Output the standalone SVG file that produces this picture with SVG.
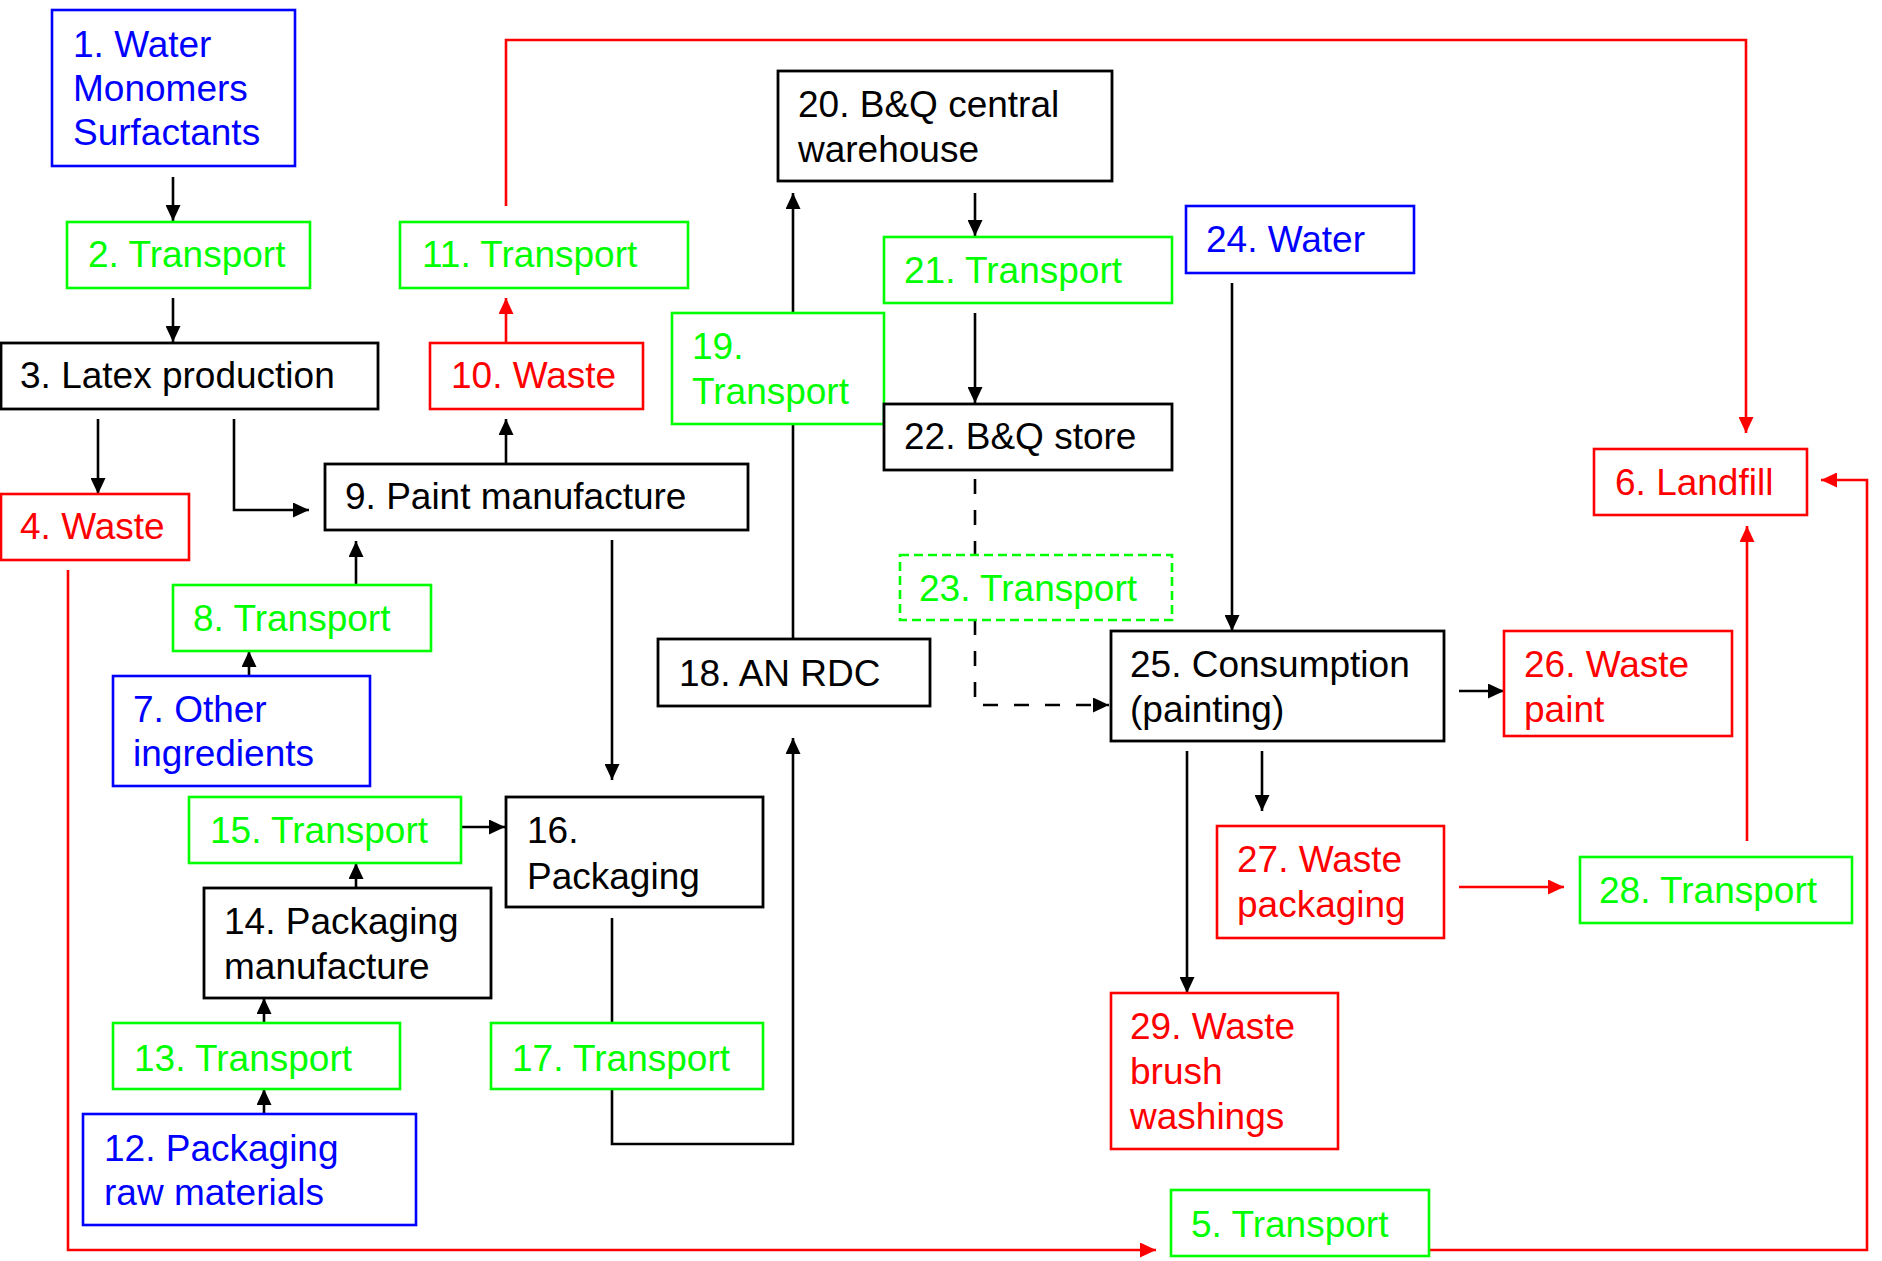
<svg xmlns="http://www.w3.org/2000/svg" width="1882" height="1261" viewBox="0 0 1882 1261">
<style>
rect{fill:#fff;stroke-width:2.6}
.k{stroke:#000;stroke-width:2.8}
.g{stroke:#00ff00}
.r{stroke:#ff0000}
.u{stroke:#0000ff}
.d{stroke-dasharray:9 5}
text{font-family:"Liberation Sans",Arial,sans-serif;font-size:37px}
.tk{fill:#000}.tg{fill:#00ff00}.tr{fill:#ff0000}.tu{fill:#0000ff}
#connectors path{fill:none;stroke-width:2.6}
.ck{stroke:#000}
.cr{stroke:#ff0000}
.dash{stroke-dasharray:15 16}
</style>
<defs>
<marker id="ak" markerUnits="userSpaceOnUse" markerWidth="16" markerHeight="15" refX="16" refY="7.5" orient="auto"><path d="M0,0 L16,7.5 L0,15 z" fill="#000"/></marker>
<marker id="ar" markerUnits="userSpaceOnUse" markerWidth="16" markerHeight="15" refX="16" refY="7.5" orient="auto"><path d="M0,0 L16,7.5 L0,15 z" fill="#ff0000"/></marker>
</defs>
<g id="connectors">
<path class="ck" d="M173,177 V221" marker-end="url(#ak)"/>
<path class="ck" d="M173,298 V342" marker-end="url(#ak)"/>
<path class="ck" d="M98,419 V494" marker-end="url(#ak)"/>
<path class="ck" d="M234,419 V510 H309" marker-end="url(#ak)"/>
<path class="ck" d="M506,464 V419" marker-end="url(#ak)"/>
<path class="cr" d="M506,343 V298" marker-end="url(#ar)"/>
<path class="cr" d="M506,206 V40 H1746 V433" marker-end="url(#ar)"/>
<path class="ck" d="M356,585 V541" marker-end="url(#ak)"/>
<path class="ck" d="M249,676 V651" marker-end="url(#ak)"/>
<path class="ck" d="M612,540 V780" marker-end="url(#ak)"/>
<path class="ck" d="M461,827 H505" marker-end="url(#ak)"/>
<path class="ck" d="M356,888 V863" marker-end="url(#ak)"/>
<path class="ck" d="M264,1023 V998" marker-end="url(#ak)"/>
<path class="ck" d="M264,1114 V1089" marker-end="url(#ak)"/>
<path class="ck" d="M612,918 V1023"/>
<path class="ck" d="M612,1089 V1144 H793 V738" marker-end="url(#ak)"/>
<path class="ck" d="M793,639 V424"/>
<path class="ck" d="M793,313 V193" marker-end="url(#ak)"/>
<path class="ck" d="M975,193 V236" marker-end="url(#ak)"/>
<path class="ck" d="M975,313 V403" marker-end="url(#ak)"/>
<path class="ck dash" d="M975,479 V555"/>
<path class="ck dash" d="M975,620 V705 H1109" marker-end="url(#ak)"/>
<path class="ck" d="M1232,283 V631" marker-end="url(#ak)"/>
<path class="ck" d="M1459,691 H1504" marker-end="url(#ak)"/>
<path class="ck" d="M1262,751 V811" marker-end="url(#ak)"/>
<path class="ck" d="M1187,751 V993" marker-end="url(#ak)"/>
<path class="cr" d="M1459,887 H1564" marker-end="url(#ar)"/>
<path class="cr" d="M1747,841 V526" marker-end="url(#ar)"/>
<path class="cr" d="M68,570 V1250 H1156" marker-end="url(#ar)"/>
<path class="cr" d="M1429,1250 H1867 V480 H1821" marker-end="url(#ar)"/>
</g>
<g id="n1"><rect class="u" x="52" y="10" width="243" height="156"/><text class="tu" x="73" y="57">1. Water</text><text class="tu" x="73" y="101">Monomers</text><text class="tu" x="73" y="145">Surfactants</text></g>
<g id="n2"><rect class="g" x="67" y="222" width="243" height="66"/><text class="tg" x="88" y="267">2. Transport</text></g>
<g id="n3"><rect class="k" x="1" y="343" width="377" height="66"/><text class="tk" x="20" y="388">3. Latex production</text></g>
<g id="n4"><rect class="r" x="1" y="494" width="188" height="66"/><text class="tr" x="20" y="539">4. Waste</text></g>
<g id="n5"><rect class="g" x="1171" y="1190" width="258" height="66"/><text class="tg" x="1191" y="1237">5. Transport</text></g>
<g id="n6"><rect class="r" x="1594" y="449" width="213" height="66"/><text class="tr" x="1615" y="495">6. Landfill</text></g>
<g id="n7"><rect class="u" x="113" y="676" width="257" height="110"/><text class="tu" x="133" y="722">7. Other</text><text class="tu" x="133" y="766">ingredients</text></g>
<g id="n8"><rect class="g" x="173" y="585" width="258" height="66"/><text class="tg" x="193" y="631">8. Transport</text></g>
<g id="n9"><rect class="k" x="325" y="464" width="423" height="66"/><text class="tk" x="345" y="509">9. Paint manufacture</text></g>
<g id="n10"><rect class="r" x="430" y="343" width="213" height="66"/><text class="tr" x="451" y="388">10. Waste</text></g>
<g id="n11"><rect class="g" x="400" y="222" width="288" height="66"/><text class="tg" x="422" y="267">11. Transport</text></g>
<g id="n12"><rect class="u" x="83" y="1114" width="333" height="111"/><text class="tu" x="104" y="1161">12. Packaging</text><text class="tu" x="104" y="1205">raw materials</text></g>
<g id="n13"><rect class="g" x="113" y="1023" width="287" height="66"/><text class="tg" x="134" y="1071">13. Transport</text></g>
<g id="n14"><rect class="k" x="204" y="888" width="287" height="110"/><text class="tk" x="224" y="934">14. Packaging</text><text class="tk" x="224" y="979">manufacture</text></g>
<g id="n15"><rect class="g" x="189" y="797" width="272" height="66"/><text class="tg" x="210" y="843">15. Transport</text></g>
<g id="n16"><rect class="k" x="506" y="797" width="257" height="110"/><text class="tk" x="527" y="843">16.</text><text class="tk" x="527" y="889">Packaging</text></g>
<g id="n17"><rect class="g" x="491" y="1023" width="272" height="66"/><text class="tg" x="512" y="1071">17. Transport</text></g>
<g id="n18"><rect class="k" x="658" y="639" width="272" height="67"/><text class="tk" x="679" y="686">18. AN RDC</text></g>
<g id="n19"><rect class="g" x="672" y="313" width="212" height="111"/><text class="tg" x="692" y="359">19.</text><text class="tg" x="692" y="404">Transport</text></g>
<g id="n20"><rect class="k" x="778" y="71" width="334" height="110"/><text class="tk" x="798" y="117">20. B&amp;Q central</text><text class="tk" x="798" y="162">warehouse</text></g>
<g id="n21"><rect class="g" x="884" y="237" width="288" height="66"/><text class="tg" x="904" y="283">21. Transport</text></g>
<g id="n22"><rect class="k" x="884" y="404" width="288" height="66"/><text class="tk" x="904" y="449">22. B&amp;Q store</text></g>
<g id="n23"><rect class="g d" x="900" y="555" width="272" height="65"/><text class="tg" x="919" y="601">23. Transport</text></g>
<g id="n24"><rect class="u" x="1186" y="206" width="228" height="67"/><text class="tu" x="1206" y="252">24. Water</text></g>
<g id="n25"><rect class="k" x="1111" y="631" width="333" height="110"/><text class="tk" x="1130" y="677">25. Consumption</text><text class="tk" x="1130" y="722">(painting)</text></g>
<g id="n26"><rect class="r" x="1504" y="631" width="228" height="105"/><text class="tr" x="1524" y="677">26. Waste</text><text class="tr" x="1524" y="722">paint</text></g>
<g id="n27"><rect class="r" x="1217" y="826" width="227" height="112"/><text class="tr" x="1237" y="872">27. Waste</text><text class="tr" x="1237" y="917">packaging</text></g>
<g id="n28"><rect class="g" x="1580" y="857" width="272" height="66"/><text class="tg" x="1599" y="903">28. Transport</text></g>
<g id="n29"><rect class="r" x="1111" y="993" width="227" height="156"/><text class="tr" x="1130" y="1039">29. Waste</text><text class="tr" x="1130" y="1084">brush</text><text class="tr" x="1130" y="1129">washings</text></g>
</svg>
